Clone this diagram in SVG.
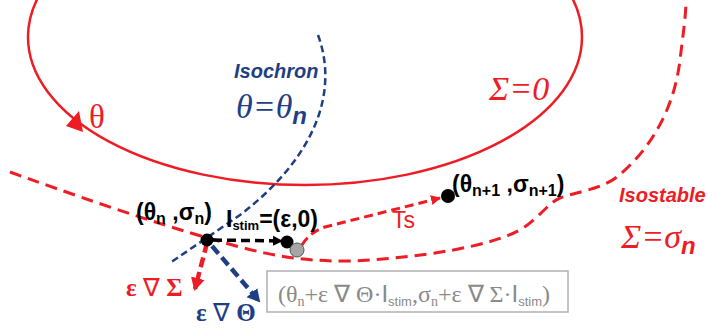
<svg xmlns="http://www.w3.org/2000/svg" width="707" height="330" viewBox="0 0 707 330">
<style>
.red{stroke:#ee1c24;fill:none}
.blue{stroke:#1f3f85;fill:none}
.blk{stroke:#000;fill:none}
.tb{font-family:"Liberation Sans",Arial,sans-serif;font-weight:bold}
.ts{font-family:"Liberation Serif","Times New Roman",serif}
.nb{font-weight:normal}
</style>
<defs>
<marker id="ar" markerWidth="12" markerHeight="12" refX="9" refY="6" orient="auto" markerUnits="userSpaceOnUse"><path d="M0,1 L10,6 L0,11 Z" fill="#ee1c24"/></marker>
<marker id="ab" markerWidth="12" markerHeight="12" refX="9" refY="6" orient="auto" markerUnits="userSpaceOnUse"><path d="M0,1 L10,6 L0,11 Z" fill="#000"/></marker>
<marker id="abl" markerWidth="16" markerHeight="16" refX="11" refY="8" orient="auto" markerUnits="userSpaceOnUse"><path d="M0,1 L13,8 L0,15 Z" fill="#1f3f85"/></marker>
<marker id="ar2" markerWidth="16" markerHeight="16" refX="11" refY="8" orient="auto" markerUnits="userSpaceOnUse"><path d="M0,1 L13,8 L0,15 Z" fill="#ee1c24"/></marker>
</defs>

<g id="limit-cycle">
<ellipse class="red" cx="305" cy="37" rx="277" ry="148" stroke-width="2.5"/>
<polygon points="83,132 66,126 79,111" fill="#ee1c24"/>
<text x="89" y="128" class="ts" font-size="33" fill="#ee1c24">θ</text>
<text x="489" y="100" class="ts" font-size="34" font-style="italic" fill="#ee1c24">Σ=0</text>
</g>

<g id="isostable">
<path class="red" stroke-width="3" stroke-dasharray="12,7" d="M10,172 C60,190 150,222 215,240 C250,250 290,262 350,261 C420,258 495,246 523,228 C540,217 548,203 560,198 C575,192 600,190 617,177 C650,150 674,110 680,60 C683,35 686,15 686,0"/>
<text x="619" y="202" class="tb" font-style="italic" font-size="20" fill="#ee1c24">Isostable</text>
<text x="621" y="248" class="ts" font-style="italic" font-size="34" fill="#ee1c24">Σ=σ<tspan class="tb" font-size="24" dy="6">n</tspan></text>
</g>

<g id="isochron">
<path class="blue" stroke-width="2.5" stroke-dasharray="7,4" d="M318,35 C340,95 312,160 240,215 L170,263"/>
<text x="234" y="78" class="tb" font-style="italic" font-size="20" fill="#1f3f85">Isochron</text>
<text x="236" y="118" class="ts" font-style="italic" font-size="34" fill="#1f3f85">θ=θ<tspan class="tb" font-size="24" dy="6">n</tspan></text>
</g>

<g id="connectors">
<path class="blk" stroke-width="3.5" stroke-dasharray="9,5" d="M213,240 L282,241" marker-end="url(#ab)"/>
<path class="red" stroke-width="3" stroke-dasharray="9,5" d="M302,245 Q310,232 325,227 L440,198" marker-end="url(#ar)"/>
<path class="red" stroke-width="4.5" stroke-dasharray="10,5" d="M207,243 L195,289" marker-end="url(#ar2)"/>
<path class="blue" stroke-width="4.5" stroke-dasharray="10,5" d="M212,246 L259,301" marker-end="url(#abl)"/>
</g>

<g id="point-n">
<circle cx="207" cy="240" r="6.5" fill="#000"/>
<text x="136" y="220" class="tb" font-size="23" fill="#000">(θ<tspan font-size="16" dy="4">n</tspan><tspan dy="-4"> ,σ</tspan><tspan font-size="16" dy="4">n</tspan><tspan dy="-4">)</tspan></text>
</g>

<g id="stim-point">
<circle cx="287" cy="242" r="6.5" fill="#000"/>
<circle cx="297" cy="250" r="7" fill="#a6a6a6" stroke="#555" stroke-width="1"/>
<text x="226" y="227" class="tb" font-size="23" fill="#000">I<tspan font-size="13" dy="3">stim</tspan><tspan dy="-3">=(ε,0)</tspan></text>
</g>

<g id="point-n1">
<circle cx="448" cy="196" r="7" fill="#000"/>
<text x="452" y="192" class="tb" font-size="23" fill="#000">(θ<tspan font-size="16" dy="4">n+1</tspan><tspan dy="-4"> ,σ</tspan><tspan font-size="16" dy="4">n+1</tspan><tspan dy="-4">)</tspan></text>
<text x="392" y="228" font-family="Liberation Sans,Arial,sans-serif" font-size="23" fill="#ee1c24">Ts</text>
</g>

<g id="gradients">
<text x="126" y="296" class="ts" font-weight="bold" font-size="25" fill="#ee1c24">ε <tspan class="nb">∇</tspan> Σ</text>
<text x="196" y="321" class="ts" font-weight="bold" font-size="25" fill="#1f3f85">ε <tspan class="nb">∇</tspan> Θ</text>
</g>

<g id="update-box">
<rect x="267" y="271" width="301" height="41" fill="#fff" stroke="#b0b0b0" stroke-width="1.5"/>
<text x="278" y="302" class="ts" font-size="24" fill="#8a8a8a">(θ<tspan font-size="14" dy="4">n</tspan><tspan dy="-4">+ε ∇ Θ·</tspan><tspan font-family="Liberation Sans,Arial,sans-serif">I</tspan><tspan font-family="Liberation Sans,Arial,sans-serif" font-size="13" dy="4">stim</tspan><tspan dy="-4">,σ</tspan><tspan font-size="14" dy="4">n</tspan><tspan dy="-4">+ε ∇ Σ·</tspan><tspan font-family="Liberation Sans,Arial,sans-serif">I</tspan><tspan font-family="Liberation Sans,Arial,sans-serif" font-size="13" dy="4">stim</tspan><tspan dy="-4">)</tspan></text>
</g>
</svg>
